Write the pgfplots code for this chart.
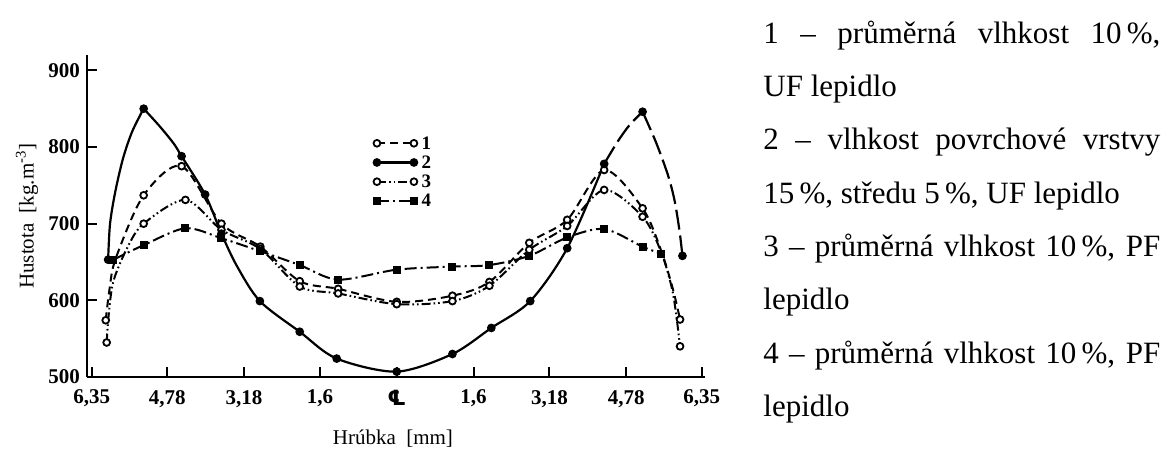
\documentclass[border=0pt]{standalone}
\usepackage{fontspec}
\setmainfont{Liberation Serif}
\newfontfamily\symfont{DejaVu Sans}
\usepackage{pgfplots}
\pgfplotsset{compat=1.18}

% line styles of the four density profiles
\pgfplotsset{
  cOne/.style={black, line width=1pt, dash pattern=on 4pt off 2.5pt,
    mark=*, mark size=1.7pt, mark options={solid, fill=white, line width=0.9pt}},
  cTwo/.style={black, line width=1.1pt, solid,
    mark=*, mark size=1.6pt, mark options={solid, fill=black}},
  cThree/.style={black, line width=1pt,
    dash pattern=on 4.5pt off 1.5pt on 0.8pt off 1.5pt on 0.8pt off 1.5pt,
    mark=*, mark size=1.7pt, mark options={solid, fill=white, line width=0.9pt}},
  cFour/.style={black, line width=1pt, dash pattern=on 6pt off 2pt on 1pt off 2pt,
    mark=square*, mark size=1.5pt, mark options={solid, fill=black}},
  cTwoLong/.style={black, line width=1.1pt, dash pattern=on 10pt off 3pt,
    mark=*, mark size=1.6pt, mark options={solid, fill=black}},
}

\newcommand{\txt}{\fontsize{15.5}{18}\selectfont}

\begin{document}
\begin{tikzpicture}
\path[use as bounding box] (-43.5pt,-36pt) rectangle (540pt,188.5pt);
\begin{axis}[
  at={(0,0)}, anchor=south west,
  scale only axis, width=309pt, height=161pt,
  xmin=-6.45, xmax=6.42, ymin=500, ymax=920,
  axis lines=left,
  axis line style={-, line width=1.2pt},
  tick style={black, line width=1pt},
  major tick length=5pt,
  tick align=inside,
  xtick={-6.35,-4.78,-3.18,-1.6,0,1.6,3.18,4.78,6.35},
  xticklabels={{6,35},{4,78},{3,18},{1,6},{\symfont\bfseries ℄},{1,6},{3,18},{4,78},{6,35}},
  ytick={500,600,700,800,900},
  /pgf/number format/assume math mode=true,
  ticklabel style={font=\fontsize{10.5}{12}\selectfont\bfseries},
  xticklabel style={yshift=-3pt},
  xlabel={Hrúbka\ \ [mm]},
  ylabel={Hustota\ \ [kg.m\textsuperscript{-3}]},
  label style={font=\fontsize{10.5}{13}\selectfont},
  x label style={at={(axis description cs:0.495,-0.19)}, anchor=center},
  y label style={at={(axis description cs:-0.097,0.5)}, anchor=center},
  legend style={draw=none, fill=none, at={(axis description cs:0.463,0.755)},
    anchor=north west, inner sep=0pt, row sep=0.6pt,
    font=\fontsize{9.5}{10}\selectfont\bfseries,
    nodes={inner sep=0.5pt, text height=7pt, text depth=1pt}},
  legend cell align=left,
  legend image code/.code={
    \draw[#1, mark repeat=2, mark phase=1]
      plot coordinates {(0pt,0pt) (9.25pt,0pt) (18.5pt,0pt)};
  },
]

\addlegendimage{cOne}\addlegendentry{\,1}
\addlegendimage{cTwo}\addlegendentry{\,2}
\addlegendimage{cThree}\addlegendentry{\,3}
\addlegendimage{cFour}\addlegendentry{\,4}

% 1 - average moisture 10 %, UF resin
\addplot[cOne, smooth, forget plot, mark indices={1,4,5,6,7,8,9,10,11,12,13,14,15,16,19}]
  coordinates {(-6.06,574) (-5.98,615) (-5.85,655) (-5.27,737) (-4.48,775)
    (-3.65,700) (-2.84,670) (-2.02,625) (-1.22,615) (0,598) (1.16,606)
    (1.93,624) (2.76,675) (3.55,705) (4.32,770) (5.12,720) (5.50,666)
    (5.75,615) (5.90,575)};

% 3 - average moisture 10 %, PF resin
\addplot[cThree, smooth, forget plot, mark indices={1,5,6,7,8,9,10,11,12,13,14,15,16,17,20}]
  coordinates {(-6.04,545) (-6.00,580) (-5.90,625) (-5.60,670) (-5.27,700)
    (-4.40,731) (-3.65,692) (-2.84,667) (-2.02,618) (-1.22,609) (0,595)
    (1.16,599) (1.93,619) (2.76,666) (3.55,697) (4.32,744) (5.12,709)
    (5.50,664) (5.75,610) (5.90,540)};

% 4 - average moisture 10 %, PF resin
\addplot[cFour, smooth, forget plot]
  coordinates {(-5.90,653) (-5.27,672) (-4.40,694) (-3.65,681) (-2.84,664)
    (-2.02,646) (-1.22,627) (0,640) (1.16,644) (1.93,646) (2.76,658)
    (3.55,682) (4.32,693) (5.12,670) (5.50,661)};

% 2 - surface layer 15 %, core 5 %, UF resin
\addplot[cTwo, smooth, forget plot, mark indices={1}]
  coordinates {(-6.01,653) (-5.97,700) (-5.86,742) (-5.70,785) (-5.51,820) (-5.27,850)};
\addplot[cTwo, smooth, forget plot, mark indices={1,4,5,6,8,9,10,11,12,13,14,15,16}]
  coordinates {(-5.27,850) (-4.95,828) (-4.65,805) (-4.48,788) (-3.99,738)
    (-3.65,687) (-3.33,645) (-2.85,599) (-2.02,559) (-1.25,524) (0,507)
    (1.16,530) (1.97,564) (2.78,599) (3.55,668) (4.32,778)};
\addplot[cTwoLong, smooth, forget plot, mark indices={4}]
  coordinates {(4.32,778) (4.59,806) (4.84,828) (5.12,846)};
\addplot[cTwoLong, smooth, forget plot, mark indices={6}]
  coordinates {(5.12,846) (5.40,806) (5.65,763) (5.79,729) (5.89,690) (5.95,658)};
\end{axis}

\begin{scope}[every node/.style={anchor=base west, inner sep=0pt, font=\txt}]
\node at (338pt,166.85pt) {\makebox[198.5pt][s]{1 – průměrná vlhkost 10\,\%,}};
\node at (338pt,140.2pt)  {UF lepidlo};
\node at (338pt,113.55pt) {\makebox[198.5pt][s]{2 – vlhkost povrchové vrstvy}};
\node at (338pt,86.9pt)   {15\,\%, středu 5\,\%, UF lepidlo};
\node at (338pt,60.25pt)  {\makebox[198.5pt][s]{3 – průměrná vlhkost 10\,\%, PF}};
\node at (338pt,33.6pt)   {lepidlo};
\node at (338pt,6.95pt)   {\makebox[198.5pt][s]{4 – průměrná vlhkost 10\,\%, PF}};
\node at (338pt,-19.7pt)  {lepidlo};
\end{scope}
\end{tikzpicture}
\end{document}
